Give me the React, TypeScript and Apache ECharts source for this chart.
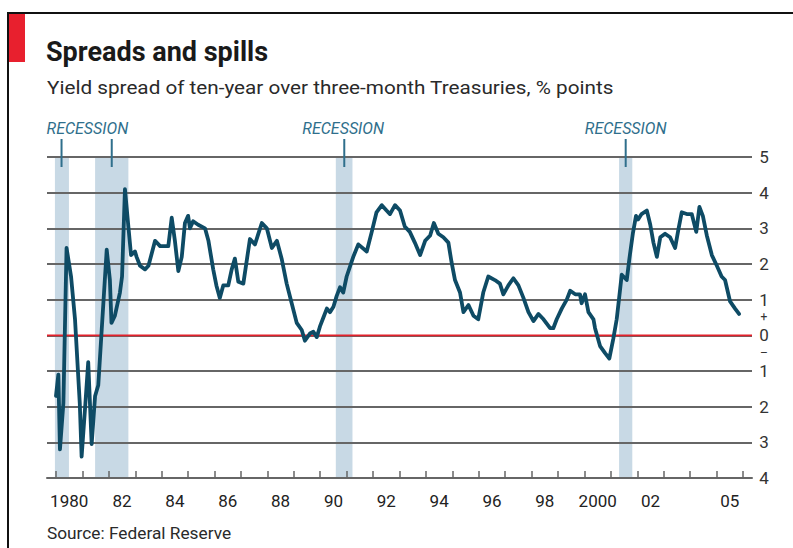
import React, { useEffect, useRef } from "react";
import * as echarts from "echarts";

// Yield spread, ten-year over three-month Treasuries (% points)
const years = [
  1980.0, 1980.09, 1980.15, 1980.28, 1980.4, 1980.57, 1980.72, 1980.9, 1980.97, 1981.1,
  1981.22, 1981.35, 1981.48, 1981.6, 1981.73, 1981.92, 1982.04, 1982.1, 1982.23, 1982.42,
  1982.5, 1982.61, 1982.74, 1982.84, 1982.99, 1983.05, 1983.18, 1983.37, 1983.5, 1983.75,
  1983.94, 1984.25, 1984.38, 1984.5, 1984.63, 1984.76, 1984.88, 1985.0, 1985.07, 1985.19,
  1985.38, 1985.64, 1985.77, 1985.95, 1986.07, 1986.2, 1986.33, 1986.52, 1986.65, 1986.77,
  1986.9, 1987.09, 1987.34, 1987.53, 1987.66, 1987.79, 1987.98, 1988.17, 1988.36, 1988.54,
  1988.73, 1988.92, 1989.11, 1989.3, 1989.42, 1989.61, 1989.74, 1989.87, 1989.99, 1990.12,
  1990.25, 1990.37, 1990.5, 1990.62, 1990.75, 1990.87, 1991.0, 1991.25, 1991.44, 1991.76,
  1991.95, 1992.13, 1992.33, 1992.51, 1992.64, 1992.83, 1993.02, 1993.2, 1993.39, 1993.58,
  1993.78, 1993.97, 1994.16, 1994.3, 1994.47, 1994.66, 1994.85, 1994.97, 1995.1, 1995.29,
  1995.42, 1995.61, 1995.8, 1995.98, 1996.17, 1996.36, 1996.61, 1996.8, 1996.93, 1997.12,
  1997.31, 1997.5, 1997.69, 1997.88, 1998.07, 1998.26, 1998.45, 1998.7, 1998.82, 1998.95,
  1999.14, 1999.33, 1999.46, 1999.65, 1999.83, 1999.89, 2000.02, 2000.15, 2000.34, 2000.4,
  2000.59, 2000.78, 2000.94, 2001.09, 2001.22, 2001.35, 2001.41, 2001.6, 2001.7, 2001.83,
  2001.95, 2002.03, 2002.16, 2002.36, 2002.49, 2002.61, 2002.74, 2002.87, 2003.05, 2003.24,
  2003.43, 2003.55, 2003.68, 2003.87, 2004.06, 2004.23, 2004.35, 2004.48, 2004.63, 2004.82,
  2005.01, 2005.19, 2005.32, 2005.51, 2005.7, 2005.85,
];
const spread = [
  -1.7, -1.1, -3.2, -1.9, 2.45, 1.65, 0.45, -1.9, -3.4, -2.05,
  -0.75, -3.05, -1.7, -1.4, 0.15, 2.4, 1.55, 0.35, 0.55, 1.2,
  1.65, 4.1, 3.05, 2.25, 2.35, 2.2, 1.95, 1.85, 1.95, 2.65,
  2.5, 2.5, 3.3, 2.65, 1.8, 2.2, 3.15, 3.35, 3.0, 3.2,
  3.1, 3.0, 2.65, 1.85, 1.4, 1.05, 1.4, 1.4, 1.85, 2.15,
  1.5, 1.45, 2.7, 2.55, 2.85, 3.15, 3.0, 2.45, 2.65, 2.15,
  1.45, 0.9, 0.35, 0.15, -0.15, 0.05, 0.1, -0.05, 0.25, 0.5,
  0.75, 0.65, 0.8, 1.1, 1.35, 1.2, 1.65, 2.2, 2.55, 2.35,
  2.9, 3.45, 3.65, 3.5, 3.4, 3.65, 3.5, 3.05, 2.9, 2.6,
  2.25, 2.65, 2.8, 3.15, 2.85, 2.75, 2.6, 2.05, 1.55, 1.2,
  0.65, 0.85, 0.55, 0.45, 1.2, 1.65, 1.55, 1.45, 1.15, 1.4,
  1.6, 1.4, 1.05, 0.65, 0.4, 0.6, 0.45, 0.2, 0.2, 0.45,
  0.75, 1.0, 1.25, 1.15, 1.15, 0.9, 1.15, 0.65, 0.45, 0.2,
  -0.3, -0.5, -0.65, -0.1, 0.45, 1.3, 1.7, 1.55, 2.15, 2.85,
  3.35, 3.25, 3.4, 3.5, 3.1, 2.6, 2.2, 2.75, 2.85, 2.75,
  2.45, 2.95, 3.45, 3.4, 3.4, 2.9, 3.6, 3.35, 2.8, 2.25,
  1.95, 1.65, 1.55, 0.95, 0.75, 0.6,
];

// Recessions (start, end, in years)
const recessionStart = [1979.96, 1981.48, 1990.59, 2001.31];
const recessionEnd = [1980.49, 1982.74, 1991.22, 2001.81];
const recessionMarkYears = [1980.21, 1982.11, 1990.91, 2001.56];
const recessionLabelYears = [1981.19, 1990.87, 2001.56];
const recessionLabel = "RECESSION";

// Axes
const xMin = 1979.66;
const xMax = 2006.34;
const yMin = -4;
const yMax = 5;
const tickYears = [
  1980, 1981, 1982, 1983, 1984, 1985, 1986, 1987, 1988, 1989, 1990, 1991, 1992, 1993,
  1994, 1995, 1996, 1997, 1998, 1999, 2000, 2001, 2002, 2003, 2004, 2005, 2006,
];
const labelYears = [1980, 1982, 1984, 1986, 1988, 1990, 1992, 1994, 1996, 1998, 2000, 2002, 2005];
const labelTexts = ["1980", "82", "84", "86", "88", "90", "92", "94", "96", "98", "2000", "02", "05"];

const FONT = "Roboto, 'Noto Sans', sans-serif";
const GRID_COLOR = "#666666";
const LINE_COLOR = "#0e4b65";

export default function App() {
  const ref = useRef<HTMLDivElement>(null);

  useEffect(() => {
    if (!ref.current) return;
    const chart = echarts.init(ref.current, undefined, { renderer: "svg" });

    const option: any = {
      animation: false,
      backgroundColor: "#ffffff",
      grid: { left: 47, right: 41, top: 157, bottom: 70, containLabel: false },
      xAxis: {
        type: "value",
        min: xMin,
        max: xMax,
        splitLine: { show: false },
        axisLine: { show: true, onZero: false, lineStyle: { color: GRID_COLOR, width: 2 } },
        axisTick: {
          show: true,
          inside: true,
          length: 7,
          customValues: tickYears,
          lineStyle: { color: GRID_COLOR, width: 1.5 },
        },
        axisLabel: {
          customValues: labelYears.map((y) => y + 0.5),
          formatter: (v: number) => {
            const i = labelYears.indexOf(Math.floor(v));
            return i >= 0 ? labelTexts[i] : "";
          },
          margin: 14,
          fontSize: 17,
          fontFamily: FONT,
          color: "#222",
        },
      },
      yAxis: {
        type: "value",
        position: "right",
        min: yMin,
        max: yMax,
        interval: 1,
        axisLine: { show: false },
        axisTick: { show: false },
        splitLine: { show: true, lineStyle: { color: GRID_COLOR, width: 2 } },
        axisLabel: {
          margin: 12,
          align: "center",
          fontSize: 17,
          fontFamily: FONT,
          color: "#333",
          formatter: (v: number) => (v === 0 ? "{pm|+}\n{z|0}\n{pm|\u2013}" : String(Math.abs(v))),
          rich: {
            pm: { fontSize: 12, lineHeight: 18, fontFamily: FONT, color: "#333", align: "center" },
            z: { fontSize: 17, lineHeight: 18, fontFamily: FONT, color: "#333", align: "center" },
          },
        },
      },
      series: [
        {
          type: "custom",
          z: -1,
          silent: true,
          data: recessionStart.map((s, i) => [s, recessionEnd[i]]),
          renderItem: (params: any, api: any) => {
            const p1 = api.coord([api.value(0), yMax]);
            const p2 = api.coord([api.value(1), yMin]);
            return {
              type: "rect",
              shape: { x: p1[0], y: p1[1], width: p2[0] - p1[0], height: p2[1] - p1[1] },
              style: { fill: "#c8d9e5" },
            };
          },
        },
        {
          type: "custom",
          z: 1,
          silent: true,
          data: [[xMin, 0]],
          renderItem: (params: any, api: any) => {
            const a = api.coord([xMin, 0]);
            const b = api.coord([xMax, 0]);
            return {
              type: "line",
              shape: { x1: a[0], y1: a[1], x2: b[0], y2: b[1] },
              style: { stroke: "#e3202b", lineWidth: 1.6 },
            };
          },
        },
        {
          type: "custom",
          z: 3,
          silent: true,
          clip: false,
          data: recessionMarkYears.map((y) => [y, yMax]),
          renderItem: (params: any, api: any) => {
            const p = api.coord([api.value(0), yMax]);
            return {
              type: "line",
              shape: { x1: p[0], y1: p[1] - 18, x2: p[0], y2: p[1] + 10 },
              style: { stroke: "#2f6f8c", lineWidth: 2 },
            };
          },
        },
        {
          type: "custom",
          z: 3,
          silent: true,
          clip: false,
          data: recessionLabelYears.map((y) => [y, yMax]),
          renderItem: (params: any, api: any) => {
            const p = api.coord([api.value(0), yMax]);
            return {
              type: "text",
              x: p[0],
              y: p[1] - 29,
              style: {
                text: recessionLabel,
                fill: "#2f6f8c",
                font: `italic 16px ${FONT}`,
                align: "center",
                verticalAlign: "middle",
              },
            };
          },
        },
        {
          type: "line",
          z: 2,
          data: years.map((y, i) => [y, spread[i]]),
          showSymbol: false,
          symbol: "none",
          lineStyle: { color: LINE_COLOR, width: 3.8, join: "round", cap: "round" },
        },
      ],
      graphic: [
        { type: "line", shape: { x1: 7, y1: 13, x2: 793, y2: 13 }, style: { stroke: "#111", lineWidth: 2 } },
        { type: "line", shape: { x1: 8, y1: 12, x2: 8, y2: 548 }, style: { stroke: "#111", lineWidth: 2 } },
        { type: "rect", shape: { x: 9, y: 14, width: 16, height: 48 }, style: { fill: "#e8202e" } },
        {
          type: "text",
          x: 46,
          y: 52,
          style: {
            text: "Spreads and spills",
            font: `bold 27px ${FONT}`,
            fill: "#1a1a1a",
            verticalAlign: "middle",
          },
        },
        {
          type: "text",
          x: 47,
          y: 88,
          scaleX: 1.09,
          style: {
            text: "Yield spread of ten-year over three-month Treasuries, % points",
            font: `19px ${FONT}`,
            fill: "#2a2a2a",
            verticalAlign: "middle",
          },
        },
        {
          type: "text",
          x: 47,
          y: 534,
          scaleX: 1.08,
          style: {
            text: "Source: Federal Reserve",
            font: `16px ${FONT}`,
            fill: "#2a2a2a",
            verticalAlign: "middle",
          },
        },
      ],
    };

    chart.setOption(option);
    return () => chart.dispose();
  }, []);

  return (
    <div
      ref={ref}
      style={{ position: "fixed", left: 0, top: 0, width: 793, height: 548, background: "#fff" }}
    />
  );
}
